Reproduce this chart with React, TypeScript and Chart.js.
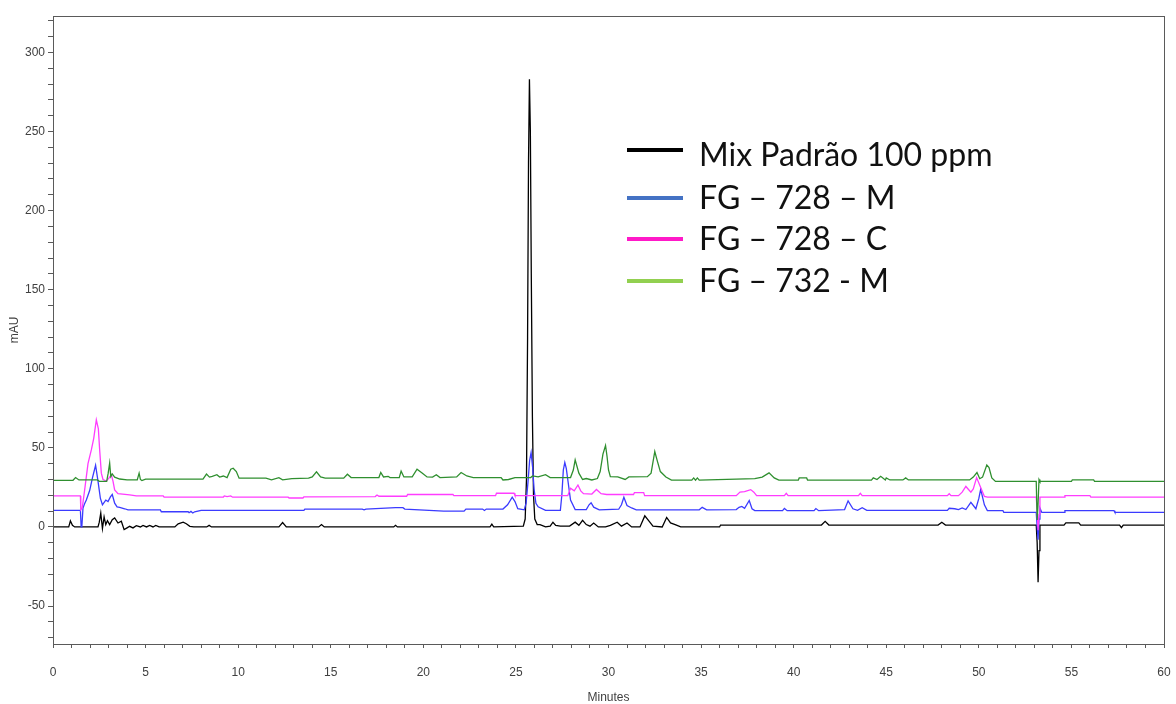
import React, { useEffect, useRef } from "react";
import { Chart, registerables } from "chart.js";

Chart.register(...registerables);

type Pt = [number, number];

// Retention time (minutes) vs absorbance (mAU) for each injection.
const mixPadrao: Pt[] = [
  [0, 0], [0.85, 0], [0.94, 3.8], [1.05, 1], [1.17, 0], [2.43, 0], [2.5, 3], [2.58, 8.7], [2.67, -1],
  [2.76, 6.3], [2.85, 1.5], [2.94, 4], [3.06, 1.5], [3.2, 4.6], [3.33, 5.7], [3.51, 2.5], [3.69, 3.6],
  [3.84, -1.7], [4.0, -0.6], [4.14, 0.4], [4.32, -0.6], [4.5, 0.8], [4.72, 0], [4.86, 1], [5.05, 0],
  [5.22, 1], [5.4, 0], [5.55, 1], [5.73, 0], [6.58, 0], [6.76, 2], [7.03, 3], [7.2, 2], [7.39, 0.4],
  [7.6, 0], [8.3, 0], [8.43, 1], [8.56, 0], [12.2, 0], [12.4, 2.8], [12.6, 0], [14.35, 0], [14.5, 1.5],
  [14.65, 0], [18.4, 0], [18.5, 1], [18.6, 0], [23.6, 0], [23.7, 1.7], [23.8, 0], [25.4, 0.5], [25.5, 5],
  [25.57, 30], [25.63, 120], [25.68, 230], [25.73, 283], [25.78, 250], [25.83, 160], [25.89, 70],
  [25.95, 20], [26.02, 5], [26.15, 1.5], [26.3, 1.5], [26.6, 0], [26.85, 0.5], [27.0, 3], [27.15, 1],
  [27.4, 0.5], [27.9, 0.5], [28.2, 3], [28.4, 1], [28.6, 4.2], [28.8, 1.5], [29.0, 0.5], [29.2, 2.5],
  [29.45, 0], [29.84, 0], [30.1, 1], [30.47, 3], [30.7, 0.5], [31.0, 2.5], [31.25, 0], [31.7, 0],
  [31.96, 7], [32.2, 3.5], [32.4, 0.5], [32.9, 0], [33.14, 6], [33.35, 2.5], [33.6, 1.5], [33.9, 0],
  [36.0, 0], [36.05, 1.2], [41.5, 1.2], [41.7, 3.5], [41.9, 1.2], [47.8, 1.2], [48.0, 3], [48.2, 1.2],
  [53.1, 1.2], [53.15, -10], [53.2, -35], [53.25, -15], [53.3, 1.2], [54.6, 1.2], [54.7, 2.6],
  [55.4, 2.6], [55.5, 1.2], [57.6, 1.2], [57.7, -0.4], [57.8, 1.2], [60, 1.2],
];

const fg728M: Pt[] = [
  [0, 10.5], [1.48, 10.5], [1.52, 0], [1.56, 0.5], [1.62, 12], [1.7, 14.5], [1.8, 17], [1.98, 23],
  [2.13, 31], [2.3, 39], [2.43, 29], [2.56, 18], [2.67, 14], [2.85, 17], [2.97, 16], [3.1, 19],
  [3.2, 20.5], [3.33, 15], [3.46, 12.7], [3.6, 12.4], [3.87, 11.5], [4.05, 10.8], [5.8, 10.8],
  [5.85, 9.6], [7.3, 9.6], [7.35, 9], [7.45, 9.8], [7.55, 8.8], [7.65, 9.6], [8.0, 10.5], [13.55, 10.5],
  [13.6, 11.3], [16.7, 11.3], [16.8, 10.8], [16.9, 11.3], [18.5, 12.2], [18.9, 12.2], [19.0, 11.3],
  [21.1, 10], [22.2, 10], [22.3, 11.3], [23.2, 11.3], [23.3, 10.4], [23.4, 11.3], [24.3, 11.3],
  [24.55, 14], [24.8, 18.8], [24.95, 16], [25.1, 11.5], [25.45, 10.8], [25.55, 15], [25.65, 28],
  [25.74, 42], [25.82, 47], [25.9, 38], [25.98, 24], [26.08, 15], [26.2, 12.7], [26.6, 10.5],
  [27.4, 10.5], [27.48, 20], [27.56, 36], [27.64, 40.7], [27.72, 37], [27.8, 30], [27.95, 17],
  [28.2, 11], [28.8, 11], [28.95, 14], [29.06, 15.3], [29.2, 12.5], [29.5, 10.8], [30.55, 11.2],
  [30.7, 14], [30.83, 18.8], [31.0, 13.5], [31.25, 12], [31.5, 10.8], [34.9, 10.8], [35.06, 12.4],
  [35.3, 10.8], [36.9, 11], [37.05, 12.4], [37.2, 13], [37.35, 11.8], [37.6, 16.7], [37.75, 11.5],
  [37.9, 10.3], [39.4, 10.3], [39.5, 11.7], [39.65, 10.3], [41.1, 10.3], [41.2, 11.6], [41.35, 10.3],
  [42.75, 11], [42.94, 16.5], [43.2, 11.5], [43.45, 10.5], [43.7, 12.2], [43.95, 10.5], [48.3, 10.5],
  [48.4, 11.8], [48.7, 11.5], [48.9, 11], [49.1, 12], [49.3, 11], [49.57, 15.6], [49.84, 11.5],
  [50.0, 18], [50.1, 23.8], [50.3, 14], [50.46, 10.3], [51.3, 10.3], [51.35, 9.2], [53.1, 9.2],
  [53.15, 0], [53.2, -8], [53.25, 5], [53.3, 12], [53.4, 9.2], [54.6, 9.2], [54.65, 10.3], [57.3, 10.3],
  [57.35, 9.2], [60, 9.2],
];

const fg728C: Pt[] = [
  [0, 19.6], [1.48, 19.6], [1.5, 10.8], [1.58, 12], [1.71, 23.4], [1.89, 40], [2.07, 48.7], [2.2, 56],
  [2.34, 67.7], [2.45, 62], [2.52, 48.7], [2.61, 34], [2.7, 30], [2.88, 29], [3.03, 31], [3.15, 33],
  [3.24, 29], [3.33, 23.4], [3.51, 21], [4.14, 20.3], [4.5, 19.6], [5.95, 19.6], [6.0, 18.8], [9.2, 18.8],
  [9.25, 19.6], [9.4, 19.2], [9.6, 19.6], [9.7, 18.8], [12.7, 18.8], [12.75, 18.3], [13.5, 18.3],
  [13.55, 19], [17.4, 19.2], [17.5, 20.2], [17.6, 19.4], [19.1, 19.4], [19.15, 20.5], [21.6, 20.5],
  [21.65, 19.8], [23.9, 19.8], [23.95, 21.3], [24.9, 21.3], [24.95, 19.8], [27.8, 19.8], [27.95, 24.5],
  [28.15, 22.8], [28.35, 26.5], [28.5, 22.8], [28.65, 21], [29.1, 20.8], [29.35, 23.7], [29.6, 21],
  [29.9, 20.5], [31.35, 20.5], [31.4, 21.7], [31.9, 21.7], [31.95, 19.8], [36.9, 19.8], [37.1, 22],
  [37.35, 22.3], [37.68, 23.6], [37.85, 22], [38.0, 19.8], [39.5, 19.8], [39.6, 21.3], [39.7, 19.8],
  [43.5, 19.8], [43.6, 21.3], [43.7, 19.8], [48.3, 19.8], [48.4, 21], [48.5, 19.8], [48.9, 19.8],
  [49.1, 22], [49.3, 25.6], [49.57, 22], [49.7, 24], [49.88, 31.2], [50.1, 25], [50.3, 19.3],
  [50.47, 18.9], [53.1, 18.9], [53.15, 10], [53.2, -2], [53.25, 8], [53.3, 18.9], [54.6, 18.9],
  [54.65, 19.8], [56.0, 19.8], [56.05, 18.9], [60, 18.9],
];

const fg732M: Pt[] = [
  [0, 29.5], [1.08, 29.5], [1.22, 31.2], [1.4, 29.7], [2.4, 29.7], [2.5, 28.8], [2.9, 28.8], [2.98, 34],
  [3.06, 40.3], [3.12, 31.8], [3.2, 33.5], [3.33, 31.5], [3.6, 30.3], [4.0, 29.8], [4.55, 29.8],
  [4.65, 34], [4.72, 30], [4.8, 29.3], [5.0, 30.2], [8.1, 30.2], [8.29, 33.4], [8.45, 31.5], [8.6, 32],
  [8.85, 33], [9.0, 31.5], [9.2, 32.2], [9.4, 31.2], [9.6, 36.5], [9.73, 37.1], [9.9, 35], [10.05, 30.8],
  [11.5, 30.8], [11.8, 29.8], [12.2, 31.2], [12.4, 29.8], [12.9, 30.5], [13.8, 30.8], [14.0, 31.6],
  [14.23, 34.8], [14.45, 31.6], [14.7, 30.8], [15.7, 30.8], [15.9, 33.3], [16.1, 31.2], [17.6, 31.2],
  [17.7, 34.4], [17.85, 31.6], [18.1, 32], [18.2, 31.2], [18.7, 31.2], [18.8, 35.3], [18.95, 31.6],
  [19.4, 31.6], [19.66, 36.5], [19.95, 34], [20.2, 31.6], [20.5, 31.5], [20.7, 33], [20.9, 31.2],
  [21.8, 31.6], [22.04, 34.4], [22.35, 32.2], [22.7, 31.2], [24.2, 31.2], [24.3, 29.7], [24.6, 30],
  [24.95, 31.2], [25.8, 31.2], [25.9, 32.3], [26.2, 31.6], [26.6, 33], [26.85, 31.2], [27.95, 31.2],
  [28.1, 36], [28.2, 42.4], [28.4, 34], [28.6, 30], [28.8, 30.6], [29.1, 29.7], [29.4, 30.6],
  [29.55, 35], [29.7, 46], [29.84, 51.5], [29.92, 44.7], [30.0, 36], [30.1, 31.8], [30.5, 31.6],
  [30.9, 30], [31.1, 31.6], [32.1, 31.8], [32.3, 34], [32.5, 47.7], [32.62, 42.4], [32.8, 35],
  [33.1, 31.6], [33.4, 29.6], [34.5, 29.6], [34.6, 31], [34.7, 29.6], [34.8, 31], [34.9, 29.6],
  [37.9, 30.5], [38.3, 31.5], [38.67, 34.2], [38.95, 31], [39.2, 29.6], [40.25, 29.6], [40.3, 31],
  [40.7, 31], [40.75, 29.6], [44.2, 29.6], [44.3, 31], [44.5, 30], [44.7, 32], [44.95, 29.7], [45.0, 31],
  [45.2, 29.7], [45.9, 29.7], [46.05, 31], [46.2, 29.7], [49.5, 29.7], [49.7, 31.5], [49.9, 34.4],
  [50.05, 30.5], [50.2, 31.5], [50.43, 39.2], [50.55, 37.5], [50.7, 31], [50.9, 28.8], [53.1, 28.8],
  [53.15, 4.4], [53.2, 15], [53.25, 30], [53.3, 28.8], [55.0, 28.8], [55.05, 29.7], [56.2, 29.7],
  [56.25, 28.8], [60, 28.8],
];

const seriesLabels = ["Mix Padrão 100 ppm", "FG – 728 – M", "FG – 728 – C", "FG – 732 - M"];
const traceColors = ["#000000", "#3b3bff", "#ff3cff", "#2f8f2f"];
const legendColors = ["#000000", "#4472c4", "#ff19c8", "#92d050"];

const xRange: [number, number] = [0, 60];
const yRange: [number, number] = [-74, 323];
const xLabelEvery = 5;
const yLabelEvery = 50;

const axisTextColor = "#404040";
const frameColor = "#5a5a5a";

const framePlugin = {
  id: "frameTitlesLegend",
  afterDraw(chart: any) {
    const { ctx, chartArea } = chart;
    const { left, top, right, bottom } = chartArea;
    ctx.save();

    // plot frame
    ctx.strokeStyle = frameColor;
    ctx.lineWidth = 1;
    ctx.strokeRect(Math.round(left) + 0.5, Math.round(top) + 0.5, Math.round(right - left), Math.round(bottom - top));

    // axis titles
    ctx.fillStyle = axisTextColor;
    ctx.font = "12px 'Liberation Sans', Arial, sans-serif";
    ctx.textAlign = "center";
    ctx.textBaseline = "middle";
    ctx.fillText("Minutes", (left + right) / 2, 698);
    ctx.save();
    ctx.translate(15, (top + bottom) / 2);
    ctx.rotate(-Math.PI / 2);
    ctx.fillText("mAU", 0, 0);
    ctx.restore();

    // legend box
    const rowY = [155, 198, 239, 281];
    ctx.font = "32px Lato, 'Noto Sans', sans-serif";
    ctx.textAlign = "left";
    ctx.textBaseline = "alphabetic";
    seriesLabels.forEach((label, i) => {
      const y = rowY[i];
      ctx.strokeStyle = legendColors[i];
      ctx.lineWidth = 4;
      ctx.beginPath();
      ctx.moveTo(627, y - (i === 0 ? 5 : 0));
      ctx.lineTo(683, y - (i === 0 ? 5 : 0));
      ctx.stroke();
      ctx.fillStyle = "#111111";
      ctx.fillText(label, 699, y + 11);
    });
    ctx.restore();
  },
};

export default function App() {
  const canvasRef = useRef<HTMLCanvasElement | null>(null);

  useEffect(() => {
    const canvas = canvasRef.current;
    if (!canvas) return;
    const seriesData = [mixPadrao, fg728M, fg728C, fg732M];
    const chart = new Chart(canvas, {
      type: "line",
      data: {
        datasets: seriesData.map((pts, i) => ({
          label: seriesLabels[i],
          data: pts.map(([x, y]) => ({ x, y })),
          borderColor: traceColors[i],
          backgroundColor: traceColors[i],
          borderWidth: 1.3,
          pointRadius: 0,
          tension: 0,
          fill: false,
          order: seriesData.length - i,
        })),
      },
      options: {
        responsive: false,
        animation: false,
        events: [],
        layout: { padding: { top: 16, right: 12, left: 0, bottom: 0 } },
        plugins: {
          legend: { display: false },
          tooltip: { enabled: false },
        },
        scales: {
          x: {
            type: "linear",
            min: xRange[0],
            max: xRange[1],
            afterFit: (scale: any) => {
              scale.height = 60;
              scale.paddingLeft = 0;
              scale.paddingRight = 0;
            },
            grid: {
              drawOnChartArea: false,
              drawTicks: true,
              tickLength: 4,
              tickColor: frameColor,
            },
            border: { display: false },
            ticks: {
              stepSize: 1,
              autoSkip: false,
              includeBounds: false,
              maxRotation: 0,
              padding: 17,
              color: axisTextColor,
              font: { family: "'Liberation Sans', Arial, sans-serif", size: 12 },
              callback: (v: any) => (Number(v) % xLabelEvery === 0 ? String(v) : ""),
            },
          },
          y: {
            type: "linear",
            min: yRange[0],
            max: yRange[1],
            afterFit: (scale: any) => {
              scale.width = 53;
              scale.paddingTop = 0;
              scale.paddingBottom = 0;
            },
            grid: {
              drawOnChartArea: false,
              drawTicks: true,
              tickLength: 5,
              tickColor: frameColor,
            },
            border: { display: false },
            ticks: {
              stepSize: 10,
              autoSkip: false,
              includeBounds: false,
              padding: 3,
              color: axisTextColor,
              font: { family: "'Liberation Sans', Arial, sans-serif", size: 12 },
              callback: (v: any) => (Number(v) % yLabelEvery === 0 ? String(v) : ""),
            },
          },
        },
      },
      plugins: [framePlugin],
    });
    return () => chart.destroy();
  }, []);

  return (
    <div style={{ position: "fixed", left: 0, top: 0, width: 1176, height: 704, background: "#ffffff" }}>
      <canvas ref={canvasRef} width={1176} height={704} style={{ display: "block" }} />
    </div>
  );
}
